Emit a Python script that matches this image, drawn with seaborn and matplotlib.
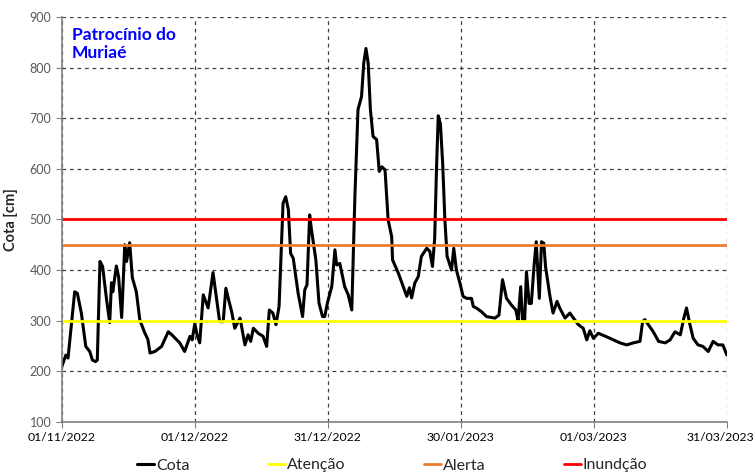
import pandas as pd
import seaborn as sns
import matplotlib.pyplot as plt
import matplotlib.dates as mdates
import matplotlib.transforms as mtransforms

# Readings (days after 01/11/2022, level in cm)
dias = [0, 0.9, 1.4, 2.2, 2.9, 3.5, 4.4, 5.4, 6.3, 6.9, 7.6, 8.0, 8.6, 9.2,
        10.1, 10.8, 11.2, 11.5, 12.3, 12.8, 13.5, 14.2, 14.6, 15.3, 15.9, 16.8,
        17.6, 18.7, 19.4, 19.9, 21.0, 22.5, 24.0, 24.8, 26.6, 27.7, 28.9, 29.4,
        30.0, 30.5, 31.1, 31.9, 33.0, 34.1, 35.6, 36.4, 37.0, 37.6, 38.3, 39.0,
        40.2, 41.3, 42.0, 42.6, 43.2, 44.3, 45.4, 46.2, 46.8, 47.6, 48.3, 49.0,
        49.9, 50.5, 51.1, 51.6, 52.2, 53.3, 54.3, 54.8, 55.3, 55.9, 56.3, 57.3,
        58.0, 58.8, 59.3, 59.9, 60.9, 61.6, 62.0, 62.7, 63.8, 64.6, 65.4, 66.1,
        66.8, 67.6, 68.1, 68.6, 69.1, 69.6, 70.2, 71.0, 71.6, 72.2, 72.9, 73.6,
        74.4, 74.6, 75.9, 77.0, 77.8, 78.4, 78.9, 79.6, 80.4, 81.1, 82.3, 83.0,
        83.6, 84.1, 84.5, 84.9, 85.4, 85.9, 86.4, 86.9, 87.9, 88.4, 89.0, 89.8,
        90.5, 91.3, 92.4, 92.8, 93.5, 94.6, 95.8, 97.7, 98.6, 99.4, 100.3, 101.4,
        102.4, 102.9, 103.5, 103.9, 104.4, 104.8, 105.4, 105.9, 106.5, 107.0,
        107.7, 108.2, 108.7, 109.1, 110.1, 110.8, 111.7, 112.3, 113.5, 114.6,
        115.4, 116.5, 117.6, 118.4, 119.1, 119.9, 121.0, 122.9, 124.4, 125.9,
        127.4, 128.9, 130.4, 131.0, 131.5, 132.3, 133.4, 134.6, 136.1, 137.2,
        138.3, 139.5, 140.3, 140.9, 141.6, 142.4, 143.5, 144.6, 145.8, 146.9,
        148.0, 149.1, 150.0]
cota = [209, 232, 226, 296, 357, 354, 315, 249, 239, 222, 219, 222, 417, 407,
        341, 296, 375, 357, 408, 387, 306, 450, 417, 454, 385, 357,
        301, 276, 263, 236, 239, 249, 278, 272, 256, 239, 269, 262,
        294, 272, 256, 351, 325, 395, 298, 298, 364, 342, 318, 285,
        305, 252, 272, 259, 285, 275, 269, 249, 321, 315, 292, 328,
        532, 545, 519, 433, 423, 354, 308, 361, 371, 509, 480, 420,
        335, 308, 308, 335, 368, 440, 410, 413, 367, 351, 321, 545,
        717, 743, 809, 838, 809, 717, 664, 658, 595, 604, 598, 499,
        466, 420, 394, 367, 348, 365, 345, 374, 387, 427, 443, 437,
        407, 463, 598, 705, 688, 611, 499, 427, 400, 443, 400, 374,
        348, 344, 344, 328, 325, 318, 308, 305, 311, 381, 344, 331,
        321, 301, 367, 301, 301, 397, 334, 334, 407, 456,
        344, 456, 453, 407, 348, 315, 338, 325, 305, 315,
        305, 292, 285, 262, 280, 265, 275, 268, 262, 256,
        252, 256, 259, 298, 302, 292, 278, 259, 256, 262,
        278, 272, 305, 325, 295, 265, 252, 249, 239, 259,
        252, 252, 232]

# Reference levels
atencao = 300
alerta = 450
inundacao = 500

tick_dates = ["2022-11-01", "2022-12-01", "2022-12-31", "2023-01-30", "2023-03-01", "2023-03-31"]

df = pd.DataFrame({"data": pd.Timestamp("2022-11-01") + pd.to_timedelta(dias, unit="D"),
                   "cota": cota})

sns.set_style("white")
plt.rcParams["font.family"] = ["Lato", "DejaVu Sans"]

fig = plt.figure(figsize=(7.54, 4.75), dpi=100)
ax = fig.add_axes([0.082, 0.112, 0.882, 0.852])

sns.lineplot(data=df, x="data", y="cota", color="black", linewidth=2.2, ax=ax, label="Cota")
ax.axhline(atencao, color="#ffff00", linewidth=2, label="Atenção")
ax.axhline(alerta, color="#ed7d31", linewidth=2, label="Alerta")
ax.axhline(inundacao, color="#ff0000", linewidth=2, label="Inundção")

ax.set_ylim(100, 900)
ax.set_yticks(range(100, 1000, 100))
ticks = pd.to_datetime(tick_dates)
ax.set_xlim(ticks[0], ticks[-1])
ax.set_xticks(ticks)
ax.xaxis.set_major_formatter(mdates.DateFormatter("%d/%m/%Y"))

ax.grid(True, linestyle=(0, (3, 3)), color="#404040", linewidth=0.9)
for s in ["top", "right"]:
    ax.spines[s].set_visible(False)
for s in ["left", "bottom"]:
    ax.spines[s].set_color("#808080")
    ax.spines[s].set_linewidth(1.2)
ax.tick_params(axis="y", labelsize=9, labelcolor="#595959", length=4, color="#808080", left=True)
ax.tick_params(axis="x", labelsize=8.8, labelcolor="black", length=4, color="#808080", bottom=True)

# keep last date label inside the figure
last = ax.get_xticklabels()[-1]
last.set_transform(last.get_transform() + mtransforms.ScaledTranslation(-5 / 72, 0, fig.dpi_scale_trans))

ax.set_xlabel("")
ax.set_ylabel("Cota [cm]", fontsize=10.5, fontweight="bold", labelpad=8)

ax.text(0.015, 0.975, "Patrocínio do\nMuriaé", transform=ax.transAxes, color="#0000ff",
        fontsize=12.5, fontweight="bold", va="top", ha="left", linespacing=1.15)

handles, labels = ax.get_legend_handles_labels()
ax.get_legend().remove()
fig.legend(handles, labels, loc="lower center", bbox_to_anchor=(0.52, -0.025), ncol=4, frameon=False,
           fontsize=11.5, handlelength=1.1, handletextpad=0.1, columnspacing=4.9)

fig.savefig("out.png", dpi=100)
